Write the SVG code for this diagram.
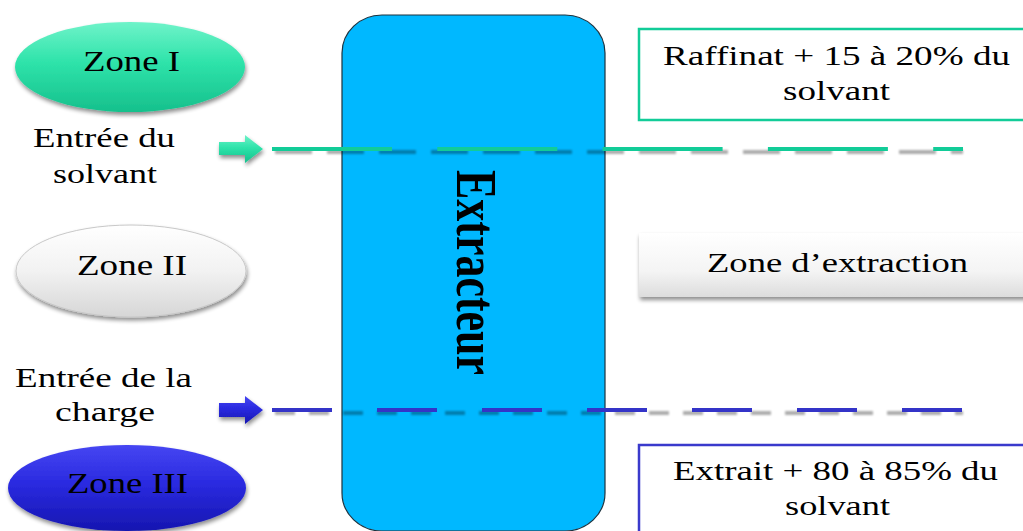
<svg xmlns="http://www.w3.org/2000/svg" width="1023" height="531" viewBox="0 0 1023 531">
  <defs>
    <linearGradient id="gTeal" x1="0" y1="0" x2="0" y2="1">
      <stop offset="0" stop-color="#6ff3c9"/>
      <stop offset="0.45" stop-color="#2ee3aa"/>
      <stop offset="1" stop-color="#16c08c"/>
    </linearGradient>
    <linearGradient id="gGrey" x1="0" y1="0" x2="0" y2="1">
      <stop offset="0" stop-color="#ffffff"/>
      <stop offset="0.5" stop-color="#f2f2f2"/>
      <stop offset="1" stop-color="#d6d6d6"/>
    </linearGradient>
    <linearGradient id="gBlue" x1="0" y1="0" x2="0" y2="1">
      <stop offset="0" stop-color="#4646f2"/>
      <stop offset="0.45" stop-color="#2a2ae0"/>
      <stop offset="1" stop-color="#1616b0"/>
    </linearGradient>
    <linearGradient id="gBox" x1="0" y1="0" x2="0" y2="1">
      <stop offset="0" stop-color="#ffffff"/>
      <stop offset="0.6" stop-color="#f4f4f4"/>
      <stop offset="1" stop-color="#dcdcdc"/>
    </linearGradient>
    <filter id="shadow" x="-20%" y="-20%" width="140%" height="150%">
      <feGaussianBlur in="SourceAlpha" stdDeviation="2"/>
      <feOffset dx="1" dy="3" result="b"/>
      <feComponentTransfer><feFuncA type="linear" slope="0.45"/></feComponentTransfer>
      <feMerge><feMergeNode/><feMergeNode in="SourceGraphic"/></feMerge>
    </filter>
    <filter id="soft" filterUnits="userSpaceOnUse" x="0" y="0" width="1023" height="531">
      <feGaussianBlur stdDeviation="1"/>
    </filter>
  </defs>
  <style>
    text { font-family: 'Liberation Serif', serif; fill: #000; }
    .lbl { font-size: 28px; }
    .zone { font-size: 30px; }
    .flow { fill: none; stroke-width: 4; }
    .shade { fill: none; stroke: #000; stroke-width: 4; opacity: 0.32; }
  </style>

  <!-- extractor column -->
  <g id="extracteur">
    <rect x="342" y="15" width="263" height="516" rx="40" ry="38" fill="#00b8ff" stroke="#1c3340" stroke-width="1.2"/>
    <text transform="translate(457,272.5) scale(1.3,1) rotate(90)" text-anchor="middle" font-family="Liberation Serif" font-size="44" font-weight="bold">Extracteur</text>
  </g>

  <!-- flow lines (drop shade + coloured dashes) -->
  <g id="connectors">
    <line class="shade" filter="url(#soft)" x1="275" y1="152" x2="963" y2="152" stroke-dasharray="37 15"/>
    <line class="flow" x1="272" y1="149" x2="963" y2="149" stroke="#12cc98" stroke-dasharray="120 45.3"/>
    <line class="shade" filter="url(#soft)" x1="275" y1="413" x2="963" y2="413" stroke-dasharray="20 14"/>
    <line class="flow" x1="272" y1="410" x2="963" y2="410" stroke="#3434c8" stroke-dasharray="60 45"/>
    <path id="arrow-solvant" filter="url(#shadow)" d="M219,142 H245 V135 L263,149 L245,163 V155 H219 Z" fill="url(#gTeal)"/>
    <path id="arrow-charge" filter="url(#shadow)" d="M219,403 H245 V396 L263,410 L245,424 V417 H219 Z" fill="url(#gBlue)"/>
  </g>

  <!-- zones -->
  <g id="zone1">
    <ellipse cx="130" cy="67" rx="115" ry="45" fill="url(#gTeal)" filter="url(#shadow)"/>
    <text class="zone" x="83" y="71" textLength="97" lengthAdjust="spacingAndGlyphs">Zone I</text>
  </g>
  <g id="zone2">
    <ellipse cx="131" cy="271" rx="115" ry="46" fill="url(#gGrey)" stroke="#c8c8c8" stroke-width="1" filter="url(#shadow)"/>
    <text class="zone" x="77" y="275" textLength="110" lengthAdjust="spacingAndGlyphs">Zone II</text>
  </g>
  <g id="zone3">
    <ellipse cx="127" cy="488" rx="119" ry="43" fill="url(#gBlue)" filter="url(#shadow)"/>
    <text class="zone" x="67" y="493" textLength="121" lengthAdjust="spacingAndGlyphs">Zone III</text>
  </g>

  <!-- inlet labels -->
  <g id="entree-solvant">
    <text class="lbl" x="33" y="147" textLength="142" lengthAdjust="spacingAndGlyphs">Entrée du</text>
    <text class="lbl" x="53" y="183" textLength="104" lengthAdjust="spacingAndGlyphs">solvant</text>
  </g>
  <g id="entree-charge">
    <text class="lbl" x="15" y="387" textLength="177" lengthAdjust="spacingAndGlyphs">Entrée de la</text>
    <text class="lbl" x="55" y="421" textLength="100" lengthAdjust="spacingAndGlyphs">charge</text>
  </g>

  <!-- outlet / zone boxes -->
  <g id="raffinat">
    <rect x="639" y="29" width="400" height="91" fill="#fff" stroke="#12cc98" stroke-width="2.5"/>
    <text class="lbl" x="663" y="65" textLength="347" lengthAdjust="spacingAndGlyphs">Raffinat + 15 à 20% du</text>
    <text class="lbl" x="783" y="100" textLength="107" lengthAdjust="spacingAndGlyphs">solvant</text>
  </g>
  <g id="zone-extraction">
    <rect x="639" y="233" width="400" height="64" fill="url(#gBox)" filter="url(#shadow)"/>
    <text class="lbl" x="707" y="272" textLength="261" lengthAdjust="spacingAndGlyphs">Zone d’extraction</text>
  </g>
  <g id="extrait">
    <rect x="639" y="445" width="400" height="100" fill="#fff" stroke="#3a3acc" stroke-width="2.5"/>
    <text class="lbl" x="673" y="480" textLength="325" lengthAdjust="spacingAndGlyphs">Extrait + 80 à 85% du</text>
    <text class="lbl" x="785" y="515" textLength="105" lengthAdjust="spacingAndGlyphs">solvant</text>
  </g>
</svg>
